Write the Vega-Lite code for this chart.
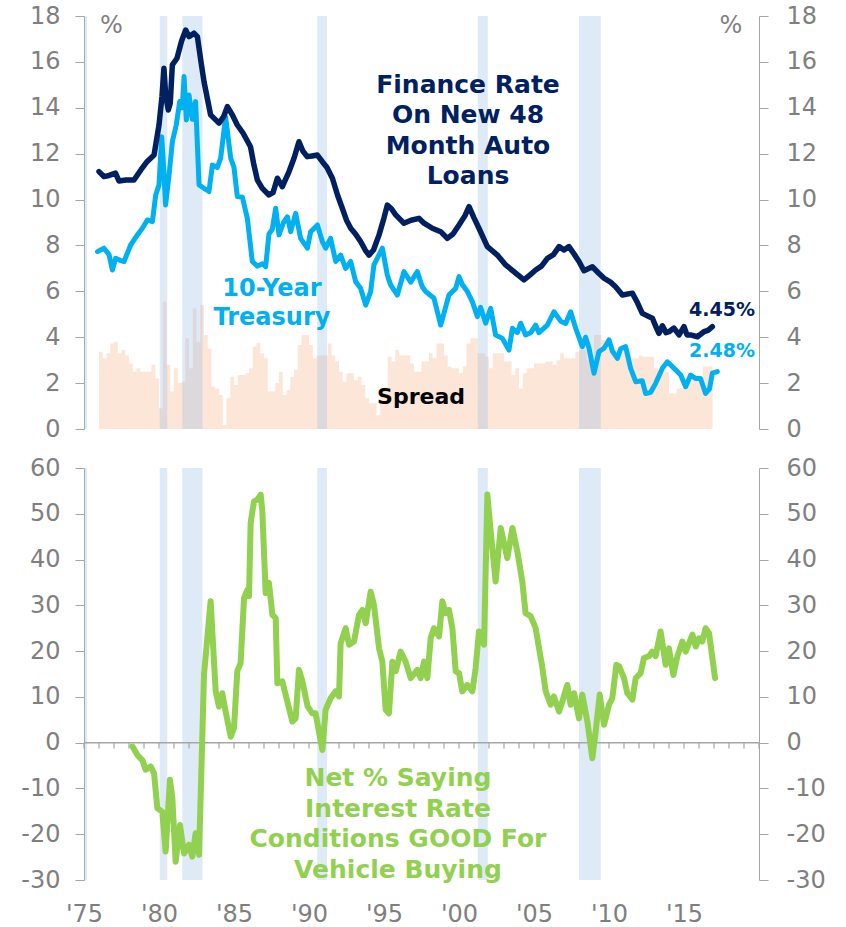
{
  "$schema": "https://vega.github.io/schema/vega-lite/v6.json",
  "padding": {"left": 20, "top": 4, "right": 5, "bottom": 5},
  "spacing": 39,
  "bounds": "flush",
  "config": {
    "view": {"stroke": null},
    "axis": {"grid": false, "labelFont": "DejaVu Sans", "labelFontSize": 24, "labelColor": "#7f7f7f", "domainColor": "#a6a6a6", "tickColor": "#a6a6a6", "tickSize": 9, "labelPadding": 15},
    "axisY": {"labelExpr": "toString(datum.value)"},
    "text": {"font": "DejaVu Sans"}
  },
  "datasets": {
    "one": [{"k": 1}],
    "rec": [{"a": 1975.0, "b": 1975.2}, {"a": 1980.05, "b": 1980.55}, {"a": 1981.55, "b": 1982.9}, {"a": 1990.55, "b": 1991.2}, {"a": 2001.25, "b": 2001.92}, {"a": 2008.0, "b": 2009.45}],
    "spread": [
      {"t": 1976.0, "v": 3.37}, {"t": 1976.25, "v": 3.08}, {"t": 1976.5, "v": 3.3}, {"t": 1976.75, "v": 3.73},
      {"t": 1977.0, "v": 3.8}, {"t": 1977.25, "v": 3.3}, {"t": 1977.5, "v": 3.44}, {"t": 1977.75, "v": 3.2},
      {"t": 1978.0, "v": 2.86}, {"t": 1978.25, "v": 2.5}, {"t": 1978.5, "v": 2.65}, {"t": 1978.75, "v": 2.5},
      {"t": 1979.0, "v": 2.5}, {"t": 1979.25, "v": 2.5}, {"t": 1979.5, "v": 2.8}, {"t": 1979.75, "v": 2.2},
      {"t": 1980.0, "v": 0.9}, {"t": 1980.25, "v": 5.55}, {"t": 1980.5, "v": 2.8}, {"t": 1980.75, "v": 1.63},
      {"t": 1981.0, "v": 2.65}, {"t": 1981.25, "v": 2.0}, {"t": 1981.5, "v": 2.06}, {"t": 1981.75, "v": 3.95},
      {"t": 1982.0, "v": 2.65}, {"t": 1982.25, "v": 5.26}, {"t": 1982.5, "v": 3.8}, {"t": 1982.75, "v": 5.4},
      {"t": 1983.0, "v": 4.1}, {"t": 1983.25, "v": 3.5}, {"t": 1983.5, "v": 1.85}, {"t": 1983.75, "v": 1.77},
      {"t": 1984.0, "v": 1.48}, {"t": 1984.25, "v": 0.17}, {"t": 1984.5, "v": 1.34}, {"t": 1984.75, "v": 2.28},
      {"t": 1985.0, "v": 1.92}, {"t": 1985.25, "v": 2.35}, {"t": 1985.5, "v": 2.35}, {"t": 1985.75, "v": 2.43},
      {"t": 1986.0, "v": 2.65}, {"t": 1986.25, "v": 3.6}, {"t": 1986.5, "v": 3.75}, {"t": 1986.75, "v": 3.3},
      {"t": 1987.0, "v": 3.08}, {"t": 1987.25, "v": 1.63}, {"t": 1987.5, "v": 1.63}, {"t": 1987.75, "v": 2.0},
      {"t": 1988.0, "v": 2.5}, {"t": 1988.25, "v": 1.48}, {"t": 1988.5, "v": 1.7}, {"t": 1988.75, "v": 2.28},
      {"t": 1989.0, "v": 2.57}, {"t": 1989.25, "v": 3.66}, {"t": 1989.5, "v": 4.1}, {"t": 1989.75, "v": 4.1},
      {"t": 1990.0, "v": 3.66}, {"t": 1990.25, "v": 3.08}, {"t": 1990.5, "v": 3.2}, {"t": 1990.75, "v": 3.2},
      {"t": 1991.0, "v": 3.2}, {"t": 1991.25, "v": 3.73}, {"t": 1991.5, "v": 3.2}, {"t": 1991.75, "v": 2.94},
      {"t": 1992.0, "v": 2.5}, {"t": 1992.25, "v": 2.06}, {"t": 1992.5, "v": 2.43}, {"t": 1992.75, "v": 2.43},
      {"t": 1993.0, "v": 2.14}, {"t": 1993.25, "v": 2.28}, {"t": 1993.5, "v": 1.92}, {"t": 1993.75, "v": 1.34},
      {"t": 1994.0, "v": 1.12}, {"t": 1994.25, "v": 1.12}, {"t": 1994.5, "v": 0.6}, {"t": 1994.75, "v": 1.8},
      {"t": 1995.0, "v": 1.8}, {"t": 1995.25, "v": 3.15}, {"t": 1995.5, "v": 2.94}, {"t": 1995.75, "v": 3.44},
      {"t": 1996.0, "v": 3.2}, {"t": 1996.25, "v": 3.2}, {"t": 1996.5, "v": 3.2}, {"t": 1996.75, "v": 2.86},
      {"t": 1997.0, "v": 2.5}, {"t": 1997.25, "v": 2.5}, {"t": 1997.5, "v": 2.94}, {"t": 1997.75, "v": 2.94},
      {"t": 1998.0, "v": 3.3}, {"t": 1998.25, "v": 3.08}, {"t": 1998.5, "v": 3.73}, {"t": 1998.75, "v": 3.73},
      {"t": 1999.0, "v": 3.2}, {"t": 1999.25, "v": 2.72}, {"t": 1999.5, "v": 2.65}, {"t": 1999.75, "v": 2.65},
      {"t": 2000.0, "v": 2.43}, {"t": 2000.25, "v": 2.72}, {"t": 2000.5, "v": 3.73}, {"t": 2000.75, "v": 3.95},
      {"t": 2001.0, "v": 3.95}, {"t": 2001.25, "v": 3.3}, {"t": 2001.5, "v": 3.3}, {"t": 2001.75, "v": 3.15},
      {"t": 2002.0, "v": 2.65}, {"t": 2002.25, "v": 3.3}, {"t": 2002.5, "v": 3.3}, {"t": 2002.75, "v": 3.3},
      {"t": 2003.0, "v": 2.94}, {"t": 2003.25, "v": 2.94}, {"t": 2003.5, "v": 2.35}, {"t": 2003.75, "v": 2.65},
      {"t": 2004.0, "v": 1.77}, {"t": 2004.25, "v": 2.43}, {"t": 2004.5, "v": 2.65}, {"t": 2004.75, "v": 2.65},
      {"t": 2005.0, "v": 2.86}, {"t": 2005.25, "v": 2.86}, {"t": 2005.5, "v": 2.86}, {"t": 2005.75, "v": 2.94},
      {"t": 2006.0, "v": 2.94}, {"t": 2006.25, "v": 2.8}, {"t": 2006.5, "v": 3.0}, {"t": 2006.75, "v": 3.3},
      {"t": 2007.0, "v": 3.08}, {"t": 2007.25, "v": 3.08}, {"t": 2007.5, "v": 3.08}, {"t": 2007.75, "v": 3.37},
      {"t": 2008.0, "v": 3.44}, {"t": 2008.25, "v": 3.44}, {"t": 2008.5, "v": 3.0}, {"t": 2008.75, "v": 2.94},
      {"t": 2009.0, "v": 4.1}, {"t": 2009.25, "v": 4.1}, {"t": 2009.5, "v": 3.88}, {"t": 2009.75, "v": 3.52},
      {"t": 2010.0, "v": 3.44}, {"t": 2010.25, "v": 3.44}, {"t": 2010.5, "v": 3.0}, {"t": 2010.75, "v": 3.66},
      {"t": 2011.0, "v": 3.52}, {"t": 2011.25, "v": 3.52}, {"t": 2011.5, "v": 3.08}, {"t": 2011.75, "v": 3.08},
      {"t": 2012.0, "v": 3.2}, {"t": 2012.25, "v": 3.15}, {"t": 2012.5, "v": 3.15}, {"t": 2012.75, "v": 3.15},
      {"t": 2013.0, "v": 2.65}, {"t": 2013.25, "v": 2.5}, {"t": 2013.5, "v": 2.5}, {"t": 2013.75, "v": 2.5},
      {"t": 2014.0, "v": 1.55}, {"t": 2014.25, "v": 1.55}, {"t": 2014.5, "v": 1.77}, {"t": 2014.75, "v": 1.77},
      {"t": 2015.0, "v": 2.2}, {"t": 2015.25, "v": 2.35}, {"t": 2015.5, "v": 2.35}, {"t": 2015.75, "v": 2.28},
      {"t": 2016.0, "v": 2.28}, {"t": 2016.25, "v": 2.72}, {"t": 2016.5, "v": 2.72}, {"t": 2016.75, "v": 2.72}, {"t": 2016.9, "v": 2.72}
    ],
    "fin": [
      {"t": 1976.0, "v": 11.22}, {"t": 1976.33, "v": 11.0}, {"t": 1976.67, "v": 11.05}, {"t": 1977.1, "v": 11.15}, {"t": 1977.33, "v": 10.81}, {"t": 1977.8, "v": 10.85}, {"t": 1978.33, "v": 10.85}, {"t": 1978.8, "v": 11.3}, {"t": 1979.2, "v": 11.65}, {"t": 1979.67, "v": 11.94}, {"t": 1980.0, "v": 13.25}, {"t": 1980.2, "v": 14.5}, {"t": 1980.33, "v": 15.72}, {"t": 1980.45, "v": 14.5}, {"t": 1980.62, "v": 13.9}, {"t": 1980.75, "v": 14.2}, {"t": 1980.89, "v": 15.87}, {"t": 1981.2, "v": 16.16}, {"t": 1981.5, "v": 16.9}, {"t": 1981.78, "v": 17.39}, {"t": 1982.0, "v": 17.1}, {"t": 1982.33, "v": 17.25}, {"t": 1982.56, "v": 17.1}, {"t": 1982.8, "v": 16.0}, {"t": 1983.0, "v": 15.14}, {"t": 1983.44, "v": 13.69}, {"t": 1984.0, "v": 13.33}, {"t": 1984.3, "v": 13.6}, {"t": 1984.56, "v": 14.05}, {"t": 1984.89, "v": 13.69}, {"t": 1985.22, "v": 13.25}, {"t": 1985.6, "v": 12.9}, {"t": 1986.1, "v": 12.3}, {"t": 1986.33, "v": 11.5}, {"t": 1986.56, "v": 10.85}, {"t": 1986.89, "v": 10.49}, {"t": 1987.33, "v": 10.2}, {"t": 1987.6, "v": 10.3}, {"t": 1987.89, "v": 10.93}, {"t": 1988.22, "v": 10.56}, {"t": 1988.67, "v": 11.22}, {"t": 1989.0, "v": 11.8}, {"t": 1989.33, "v": 12.52}, {"t": 1989.6, "v": 12.1}, {"t": 1989.89, "v": 11.87}, {"t": 1990.2, "v": 11.9}, {"t": 1990.56, "v": 11.94}, {"t": 1990.89, "v": 11.65}, {"t": 1991.2, "v": 11.4}, {"t": 1991.56, "v": 10.93}, {"t": 1991.9, "v": 10.2}, {"t": 1992.22, "v": 9.62}, {"t": 1992.5, "v": 9.1}, {"t": 1992.78, "v": 8.75}, {"t": 1993.1, "v": 8.5}, {"t": 1993.44, "v": 8.17}, {"t": 1993.75, "v": 7.8}, {"t": 1994.0, "v": 7.58}, {"t": 1994.3, "v": 7.8}, {"t": 1994.67, "v": 8.46}, {"t": 1995.0, "v": 9.2}, {"t": 1995.22, "v": 9.76}, {"t": 1995.5, "v": 9.6}, {"t": 1995.78, "v": 9.33}, {"t": 1996.33, "v": 8.97}, {"t": 1996.8, "v": 9.1}, {"t": 1997.33, "v": 9.18}, {"t": 1997.67, "v": 8.97}, {"t": 1998.22, "v": 8.75}, {"t": 1998.78, "v": 8.6}, {"t": 1999.22, "v": 8.31}, {"t": 1999.6, "v": 8.5}, {"t": 2000.0, "v": 8.89}, {"t": 2000.4, "v": 9.3}, {"t": 2000.67, "v": 9.69}, {"t": 2001.0, "v": 9.2}, {"t": 2001.33, "v": 8.75}, {"t": 2001.89, "v": 7.95}, {"t": 2002.56, "v": 7.58}, {"t": 2003.11, "v": 7.15}, {"t": 2003.78, "v": 6.79}, {"t": 2004.33, "v": 6.5}, {"t": 2004.7, "v": 6.7}, {"t": 2005.11, "v": 6.93}, {"t": 2005.5, "v": 7.1}, {"t": 2005.89, "v": 7.44}, {"t": 2006.3, "v": 7.6}, {"t": 2006.67, "v": 7.95}, {"t": 2007.0, "v": 7.8}, {"t": 2007.33, "v": 7.95}, {"t": 2007.7, "v": 7.6}, {"t": 2008.0, "v": 7.3}, {"t": 2008.33, "v": 6.9}, {"t": 2008.89, "v": 7.07}, {"t": 2009.3, "v": 6.8}, {"t": 2009.67, "v": 6.57}, {"t": 2010.1, "v": 6.4}, {"t": 2010.44, "v": 6.2}, {"t": 2010.89, "v": 5.84}, {"t": 2011.56, "v": 5.92}, {"t": 2011.9, "v": 5.5}, {"t": 2012.22, "v": 5.04}, {"t": 2012.89, "v": 4.83}, {"t": 2013.1, "v": 4.5}, {"t": 2013.33, "v": 4.17}, {"t": 2013.56, "v": 4.5}, {"t": 2013.8, "v": 4.2}, {"t": 2014.0, "v": 4.24}, {"t": 2014.33, "v": 4.4}, {"t": 2014.67, "v": 4.1}, {"t": 2015.0, "v": 4.46}, {"t": 2015.2, "v": 4.1}, {"t": 2015.44, "v": 4.1}, {"t": 2015.89, "v": 4.02}, {"t": 2016.33, "v": 4.24}, {"t": 2016.6, "v": 4.3}, {"t": 2016.89, "v": 4.46}
    ],
    "tsy": [
      {"t": 1975.9, "v": 7.73}, {"t": 1976.33, "v": 7.88}, {"t": 1976.67, "v": 7.6}, {"t": 1976.89, "v": 6.93}, {"t": 1977.11, "v": 7.44}, {"t": 1977.4, "v": 7.35}, {"t": 1977.67, "v": 7.3}, {"t": 1978.11, "v": 8.02}, {"t": 1978.56, "v": 8.46}, {"t": 1978.89, "v": 8.75}, {"t": 1979.22, "v": 9.11}, {"t": 1979.56, "v": 9.04}, {"t": 1979.78, "v": 10.2}, {"t": 1980.0, "v": 10.64}, {"t": 1980.18, "v": 12.74}, {"t": 1980.3, "v": 11.5}, {"t": 1980.44, "v": 9.76}, {"t": 1980.67, "v": 11.07}, {"t": 1980.89, "v": 12.52}, {"t": 1981.15, "v": 13.25}, {"t": 1981.38, "v": 14.27}, {"t": 1981.55, "v": 14.0}, {"t": 1981.67, "v": 15.36}, {"t": 1981.82, "v": 13.47}, {"t": 1982.0, "v": 14.56}, {"t": 1982.22, "v": 13.5}, {"t": 1982.44, "v": 14.27}, {"t": 1982.67, "v": 10.64}, {"t": 1983.0, "v": 10.49}, {"t": 1983.33, "v": 10.35}, {"t": 1983.56, "v": 11.5}, {"t": 1983.89, "v": 11.4}, {"t": 1984.11, "v": 11.8}, {"t": 1984.44, "v": 13.61}, {"t": 1984.78, "v": 11.8}, {"t": 1985.0, "v": 11.4}, {"t": 1985.22, "v": 10.13}, {"t": 1985.56, "v": 10.1}, {"t": 1985.89, "v": 9.18}, {"t": 1986.22, "v": 7.3}, {"t": 1986.56, "v": 7.1}, {"t": 1986.9, "v": 7.2}, {"t": 1987.11, "v": 7.07}, {"t": 1987.33, "v": 8.5}, {"t": 1987.55, "v": 8.7}, {"t": 1987.78, "v": 9.62}, {"t": 1988.0, "v": 8.46}, {"t": 1988.3, "v": 9.0}, {"t": 1988.56, "v": 9.25}, {"t": 1988.78, "v": 8.6}, {"t": 1989.11, "v": 9.4}, {"t": 1989.44, "v": 8.31}, {"t": 1989.89, "v": 7.88}, {"t": 1990.11, "v": 8.6}, {"t": 1990.56, "v": 8.89}, {"t": 1990.89, "v": 8.17}, {"t": 1991.11, "v": 7.88}, {"t": 1991.44, "v": 8.31}, {"t": 1991.78, "v": 7.3}, {"t": 1992.11, "v": 7.58}, {"t": 1992.44, "v": 7.0}, {"t": 1992.78, "v": 7.3}, {"t": 1993.11, "v": 6.42}, {"t": 1993.44, "v": 6.13}, {"t": 1993.78, "v": 5.4}, {"t": 1994.11, "v": 5.99}, {"t": 1994.33, "v": 7.15}, {"t": 1994.89, "v": 7.88}, {"t": 1995.22, "v": 6.71}, {"t": 1995.44, "v": 6.28}, {"t": 1995.89, "v": 5.84}, {"t": 1996.33, "v": 6.86}, {"t": 1996.78, "v": 6.4}, {"t": 1997.22, "v": 6.86}, {"t": 1997.55, "v": 6.2}, {"t": 1997.78, "v": 5.99}, {"t": 1998.33, "v": 5.7}, {"t": 1998.78, "v": 4.53}, {"t": 1999.33, "v": 5.84}, {"t": 1999.78, "v": 6.13}, {"t": 2000.0, "v": 6.64}, {"t": 2000.22, "v": 6.3}, {"t": 2000.56, "v": 5.99}, {"t": 2000.89, "v": 5.55}, {"t": 2001.22, "v": 4.9}, {"t": 2001.44, "v": 5.3}, {"t": 2001.78, "v": 4.61}, {"t": 2002.11, "v": 5.26}, {"t": 2002.44, "v": 4.1}, {"t": 2002.89, "v": 3.95}, {"t": 2003.33, "v": 3.44}, {"t": 2003.56, "v": 4.39}, {"t": 2003.89, "v": 4.2}, {"t": 2004.11, "v": 4.61}, {"t": 2004.44, "v": 4.1}, {"t": 2004.78, "v": 4.2}, {"t": 2005.11, "v": 4.53}, {"t": 2005.33, "v": 4.2}, {"t": 2005.89, "v": 4.53}, {"t": 2006.33, "v": 5.11}, {"t": 2006.78, "v": 4.7}, {"t": 2007.11, "v": 4.6}, {"t": 2007.44, "v": 5.11}, {"t": 2007.78, "v": 4.39}, {"t": 2008.22, "v": 3.59}, {"t": 2008.44, "v": 4.0}, {"t": 2008.67, "v": 3.52}, {"t": 2009.0, "v": 2.43}, {"t": 2009.33, "v": 3.37}, {"t": 2009.67, "v": 3.52}, {"t": 2010.0, "v": 3.88}, {"t": 2010.22, "v": 3.4}, {"t": 2010.56, "v": 3.08}, {"t": 2010.78, "v": 3.5}, {"t": 2011.11, "v": 3.59}, {"t": 2011.44, "v": 2.65}, {"t": 2011.78, "v": 2.06}, {"t": 2012.22, "v": 2.1}, {"t": 2012.44, "v": 1.55}, {"t": 2012.78, "v": 1.6}, {"t": 2013.11, "v": 1.99}, {"t": 2013.56, "v": 2.65}, {"t": 2013.89, "v": 2.93}, {"t": 2014.33, "v": 2.65}, {"t": 2014.78, "v": 2.35}, {"t": 2015.11, "v": 1.84}, {"t": 2015.44, "v": 2.35}, {"t": 2015.78, "v": 2.2}, {"t": 2016.1, "v": 2.2}, {"t": 2016.44, "v": 1.55}, {"t": 2016.7, "v": 1.75}, {"t": 2016.89, "v": 2.43}, {"t": 2017.22, "v": 2.5}
    ],
    "net": [
      {"t": 1978.22, "v": -0.8}, {"t": 1978.56, "v": -2.7}, {"t": 1978.89, "v": -3.8}, {"t": 1979.11, "v": -5.9}, {"t": 1979.44, "v": -5.2}, {"t": 1979.67, "v": -6.7}, {"t": 1979.89, "v": -14.3}, {"t": 1980.22, "v": -15.1}, {"t": 1980.44, "v": -23.8}, {"t": 1980.73, "v": -8.1}, {"t": 1980.89, "v": -12.1}, {"t": 1981.11, "v": -26.0}, {"t": 1981.4, "v": -18.0}, {"t": 1981.67, "v": -24.2}, {"t": 1982.0, "v": -22.3}, {"t": 1982.22, "v": -24.9}, {"t": 1982.44, "v": -19.8}, {"t": 1982.67, "v": -24.5}, {"t": 1983.0, "v": 14.8}, {"t": 1983.44, "v": 30.9}, {"t": 1983.78, "v": 11.2}, {"t": 1984.0, "v": 7.9}, {"t": 1984.22, "v": 10.8}, {"t": 1984.44, "v": 6.8}, {"t": 1984.78, "v": 1.3}, {"t": 1985.0, "v": 3.2}, {"t": 1985.22, "v": 15.6}, {"t": 1985.44, "v": 17.4}, {"t": 1985.67, "v": 31.6}, {"t": 1985.89, "v": 33.4}, {"t": 1986.0, "v": 32.0}, {"t": 1986.11, "v": 48.0}, {"t": 1986.33, "v": 52.7}, {"t": 1986.56, "v": 53.1}, {"t": 1986.78, "v": 54.2}, {"t": 1986.89, "v": 50.5}, {"t": 1987.11, "v": 32.7}, {"t": 1987.33, "v": 34.9}, {"t": 1987.56, "v": 27.9}, {"t": 1987.78, "v": 27.2}, {"t": 1987.89, "v": 13.0}, {"t": 1988.22, "v": 13.4}, {"t": 1988.44, "v": 10.5}, {"t": 1988.89, "v": 4.6}, {"t": 1989.11, "v": 5.3}, {"t": 1989.33, "v": 15.9}, {"t": 1989.56, "v": 13.4}, {"t": 1989.9, "v": 8.0}, {"t": 1990.22, "v": 6.4}, {"t": 1990.44, "v": 6.4}, {"t": 1990.89, "v": -1.6}, {"t": 1991.11, "v": 7.2}, {"t": 1991.44, "v": 9.7}, {"t": 1991.78, "v": 11.2}, {"t": 1992.0, "v": 10.1}, {"t": 1992.11, "v": 21.7}, {"t": 1992.44, "v": 25.0}, {"t": 1992.67, "v": 21.4}, {"t": 1993.0, "v": 22.1}, {"t": 1993.33, "v": 27.9}, {"t": 1993.56, "v": 29.0}, {"t": 1993.78, "v": 26.1}, {"t": 1994.11, "v": 33.0}, {"t": 1994.33, "v": 30.1}, {"t": 1994.67, "v": 20.6}, {"t": 1994.89, "v": 17.7}, {"t": 1995.11, "v": 7.2}, {"t": 1995.33, "v": 6.4}, {"t": 1995.56, "v": 17.7}, {"t": 1995.78, "v": 15.6}, {"t": 1996.11, "v": 19.9}, {"t": 1996.44, "v": 17.7}, {"t": 1996.78, "v": 14.1}, {"t": 1997.22, "v": 15.9}, {"t": 1997.44, "v": 14.1}, {"t": 1997.67, "v": 17.7}, {"t": 1997.89, "v": 14.1}, {"t": 1998.11, "v": 22.8}, {"t": 1998.33, "v": 25.0}, {"t": 1998.67, "v": 23.2}, {"t": 1998.89, "v": 30.9}, {"t": 1999.11, "v": 28.3}, {"t": 1999.33, "v": 29.0}, {"t": 1999.56, "v": 25.0}, {"t": 1999.78, "v": 15.6}, {"t": 2000.0, "v": 15.2}, {"t": 2000.22, "v": 11.2}, {"t": 2000.56, "v": 12.6}, {"t": 2000.89, "v": 11.2}, {"t": 2001.11, "v": 16.3}, {"t": 2001.33, "v": 24.3}, {"t": 2001.67, "v": 21.4}, {"t": 2001.89, "v": 54.2}, {"t": 2002.11, "v": 46.2}, {"t": 2002.44, "v": 35.2}, {"t": 2002.78, "v": 46.9}, {"t": 2003.22, "v": 40.3}, {"t": 2003.56, "v": 46.9}, {"t": 2003.89, "v": 41.8}, {"t": 2004.22, "v": 35.2}, {"t": 2004.44, "v": 28.3}, {"t": 2004.78, "v": 27.6}, {"t": 2005.11, "v": 25.0}, {"t": 2005.56, "v": 16.3}, {"t": 2005.78, "v": 11.2}, {"t": 2006.11, "v": 8.3}, {"t": 2006.33, "v": 10.1}, {"t": 2006.67, "v": 6.8}, {"t": 2006.89, "v": 9.0}, {"t": 2007.22, "v": 12.6}, {"t": 2007.44, "v": 8.3}, {"t": 2007.67, "v": 10.8}, {"t": 2008.0, "v": 5.3}, {"t": 2008.22, "v": 10.5}, {"t": 2008.56, "v": 4.6}, {"t": 2008.89, "v": -3.4}, {"t": 2009.11, "v": 2.4}, {"t": 2009.38, "v": 10.5}, {"t": 2009.67, "v": 3.9}, {"t": 2010.0, "v": 8.3}, {"t": 2010.22, "v": 9.7}, {"t": 2010.49, "v": 17.0}, {"t": 2010.67, "v": 16.7}, {"t": 2011.0, "v": 14.1}, {"t": 2011.22, "v": 10.8}, {"t": 2011.56, "v": 9.4}, {"t": 2011.78, "v": 14.1}, {"t": 2012.11, "v": 15.2}, {"t": 2012.33, "v": 18.5}, {"t": 2012.67, "v": 18.9}, {"t": 2012.89, "v": 19.9}, {"t": 2013.11, "v": 18.9}, {"t": 2013.44, "v": 24.3}, {"t": 2013.78, "v": 17.0}, {"t": 2014.0, "v": 20.6}, {"t": 2014.29, "v": 14.8}, {"t": 2014.56, "v": 18.9}, {"t": 2014.89, "v": 22.1}, {"t": 2015.11, "v": 19.9}, {"t": 2015.56, "v": 23.6}, {"t": 2015.78, "v": 21.0}, {"t": 2016.0, "v": 22.8}, {"t": 2016.22, "v": 22.1}, {"t": 2016.44, "v": 25.0}, {"t": 2016.67, "v": 23.9}, {"t": 2017.07, "v": 14.1}
    ],
    "ticks": [
      {"t": 1975}, {"t": 1976}, {"t": 1977}, {"t": 1978}, {"t": 1979}, {"t": 1980}, {"t": 1981}, {"t": 1982}, {"t": 1983}, {"t": 1984},
      {"t": 1985}, {"t": 1986}, {"t": 1987}, {"t": 1988}, {"t": 1989}, {"t": 1990}, {"t": 1991}, {"t": 1992}, {"t": 1993}, {"t": 1994},
      {"t": 1995}, {"t": 1996}, {"t": 1997}, {"t": 1998}, {"t": 1999}, {"t": 2000}, {"t": 2001}, {"t": 2002}, {"t": 2003}, {"t": 2004},
      {"t": 2005}, {"t": 2006}, {"t": 2007}, {"t": 2008}, {"t": 2009}, {"t": 2010}, {"t": 2011}, {"t": 2012}, {"t": 2013}, {"t": 2014},
      {"t": 2015}, {"t": 2016}, {"t": 2017}, {"t": 2018}, {"t": 2019}, {"t": 2020}
    ]
  },
  "vconcat": [
    {
      "width": 675,
      "height": 413,
      "layer": [
        {
          "layer": [
            {
              "data": {"name": "spread"},
              "mark": {"type": "area", "interpolate": "step-after", "color": "#fce6d8"},
              "encoding": {
                "x": {"field": "t", "type": "quantitative", "scale": {"domain": [1975, 2020], "nice": false, "zero": false}, "axis": null, "title": null},
                "y": {"field": "v", "type": "quantitative", "scale": {"domain": [0, 18], "nice": false}, "title": null,
                      "axis": {"orient": "left", "values": [0, 2, 4, 6, 8, 10, 12, 14, 16, 18]}}
              }
            },
            {
              "data": {"name": "rec"},
              "mark": {"type": "rect", "color": "#96b9e6", "opacity": 0.3},
              "encoding": {
                "x": {"field": "a", "type": "quantitative", "axis": null, "title": null},
                "x2": {"field": "b"},
                "y": {"datum": 18, "type": "quantitative", "title": null},
                "y2": {"datum": 0}
              }
            },
            {
              "data": {"name": "tsy"},
              "mark": {"type": "line", "color": "#00b0f0", "strokeWidth": 5, "strokeJoin": "round", "strokeCap": "round"},
              "encoding": {
                "x": {"field": "t", "type": "quantitative", "axis": null, "title": null},
                "y": {"field": "v", "type": "quantitative", "title": null}
              }
            },
            {
              "data": {"name": "fin"},
              "mark": {"type": "line", "color": "#002060", "strokeWidth": 5.5, "strokeJoin": "round", "strokeCap": "round"},
              "encoding": {
                "x": {"field": "t", "type": "quantitative", "axis": null, "title": null},
                "y": {"field": "v", "type": "quantitative", "title": null}
              }
            },
            {
              "data": {"name": "one"},
              "mark": {"type": "text", "text": ["Finance Rate", "On New 48", "Month Auto", "Loans"], "fontSize": 25, "fontWeight": "bold", "color": "#002060", "align": "center", "baseline": "middle", "lineHeight": 30.5},
              "encoding": {
                "x": {"datum": 2000.6, "type": "quantitative", "axis": null, "title": null},
                "y": {"datum": 15.0, "type": "quantitative", "title": null}
              }
            },
            {
              "data": {"name": "one"},
              "mark": {"type": "text", "text": ["10-Year", "Treasury"], "fontSize": 24, "fontWeight": "bold", "color": "#00b0f0", "align": "center", "baseline": "middle", "lineHeight": 29},
              "encoding": {
                "x": {"datum": 1987.53, "type": "quantitative", "axis": null, "title": null},
                "y": {"datum": 6.1, "type": "quantitative", "title": null}
              }
            },
            {
              "data": {"name": "one"},
              "mark": {"type": "text", "text": "Spread", "fontSize": 22, "fontWeight": "bold", "color": "#000000", "align": "center", "baseline": "middle"},
              "encoding": {
                "x": {"datum": 1997.47, "type": "quantitative", "axis": null, "title": null},
                "y": {"datum": 1.4, "type": "quantitative", "title": null}
              }
            },
            {
              "data": {"name": "one"},
              "mark": {"type": "text", "text": "%", "fontSize": 24, "color": "#7f7f7f", "align": "center", "baseline": "middle"},
              "encoding": {
                "x": {"datum": 1976.83, "type": "quantitative", "axis": null, "title": null},
                "y": {"datum": 17.57, "type": "quantitative", "title": null}
              }
            },
            {
              "data": {"name": "one"},
              "mark": {"type": "text", "text": "%", "fontSize": 24, "color": "#7f7f7f", "align": "center", "baseline": "middle"},
              "encoding": {
                "x": {"datum": 2018.13, "type": "quantitative", "axis": null, "title": null},
                "y": {"datum": 17.57, "type": "quantitative", "title": null}
              }
            }
          ]
        },
        {
          "layer": [
            {
              "data": {"name": "one"},
              "mark": {"type": "text", "text": "4.45%", "fontSize": 19, "fontWeight": "bold", "color": "#002060", "align": "center", "baseline": "middle"},
              "encoding": {
                "x": {"datum": 2017.53, "type": "quantitative", "axis": null, "title": null},
                "y": {"datum": 5.19, "type": "quantitative", "title": null, "scale": {"domain": [0, 18], "nice": false},
                      "axis": {"orient": "right", "values": [0, 2, 4, 6, 8, 10, 12, 14, 16, 18], "labelPadding": 18}}
              }
            },
            {
              "data": {"name": "one"},
              "mark": {"type": "text", "text": "2.48%", "fontSize": 19, "fontWeight": "bold", "color": "#00b0f0", "align": "center", "baseline": "middle"},
              "encoding": {
                "x": {"datum": 2017.53, "type": "quantitative", "axis": null, "title": null},
                "y": {"datum": 3.38, "type": "quantitative", "title": null}
              }
            }
          ]
        }
      ],
      "resolve": {"scale": {"y": "independent"}}
    },
    {
      "width": 675,
      "height": 412,
      "layer": [
        {
          "layer": [
            {
              "data": {"name": "rec"},
              "mark": {"type": "rect", "color": "#96b9e6", "opacity": 0.3},
              "encoding": {
                "x": {"field": "a", "type": "quantitative", "scale": {"domain": [1975, 2020], "nice": false, "zero": false}, "title": null,
                      "axis": {"values": [1975, 1980, 1985, 1990, 1995, 2000, 2005, 2010, 2015], "labelExpr": "\"'\" + substring(toString(datum.value), 2, 4)", "labelFlush": false, "labelOverlap": false, "domain": false, "ticks": false, "tickSize": 0, "labelPadding": 22}},
                "x2": {"field": "b"},
                "y": {"datum": 60, "type": "quantitative", "title": null, "scale": {"domain": [-30, 60], "nice": false},
                      "axis": {"orient": "left", "values": [-30, -20, -10, 0, 10, 20, 30, 40, 50, 60]}},
                "y2": {"datum": -30}
              }
            },
            {
              "data": {"name": "one"},
              "mark": {"type": "rule", "color": "#a6a6a6", "strokeWidth": 1.5},
              "encoding": {
                "y": {"datum": 0, "type": "quantitative", "title": null}
              }
            },
            {
              "data": {"name": "ticks"},
              "mark": {"type": "rule", "color": "#a6a6a6", "strokeWidth": 1.2},
              "encoding": {
                "x": {"field": "t", "type": "quantitative", "title": null},
                "y": {"datum": 0, "type": "quantitative", "title": null},
                "y2": {"datum": -1.3}
              }
            },
            {
              "data": {"name": "net"},
              "mark": {"type": "line", "color": "#92d050", "strokeWidth": 6, "strokeJoin": "round", "strokeCap": "round"},
              "encoding": {
                "x": {"field": "t", "type": "quantitative", "title": null},
                "y": {"field": "v", "type": "quantitative", "title": null}
              }
            }
          ]
        },
        {
          "data": {"name": "one"},
          "mark": {"type": "text", "text": ["Net % Saying", "Interest Rate", "Conditions GOOD For", "Vehicle Buying"], "fontSize": 25, "fontWeight": "bold", "color": "#92d050", "align": "center", "baseline": "middle", "lineHeight": 30.7},
          "encoding": {
            "x": {"datum": 1995.93, "type": "quantitative", "title": null},
            "y": {"datum": -7.7, "type": "quantitative", "title": null, "scale": {"domain": [-30, 60], "nice": false},
                  "axis": {"orient": "right", "values": [-30, -20, -10, 0, 10, 20, 30, 40, 50, 60], "labelPadding": 18}}
          }
        }
      ],
      "resolve": {"scale": {"y": "independent"}}
    }
  ]
}
